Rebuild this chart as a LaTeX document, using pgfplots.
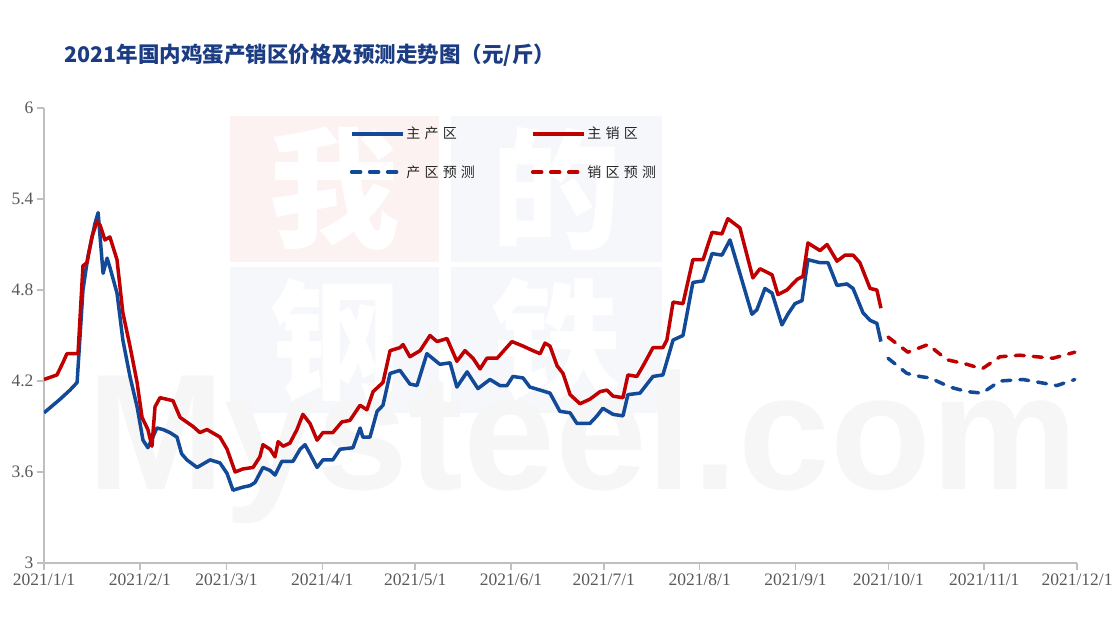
\documentclass[border=0pt]{standalone}
\usepackage{fontspec}
\setmainfont{Liberation Serif}
\newfontfamily\cjk{Noto Sans CJK SC}
\newfontfamily\cjkleg{Noto Sans CJK SC}[LetterSpace=30]
\newfontfamily\wmsans{Liberation Sans}
\usepackage{pgfplots}
\pgfplotsset{compat=1.18}
\definecolor{bl}{HTML}{124A97}
\definecolor{rd}{HTML}{C00000}
\definecolor{ttl}{HTML}{1B3C82}
\definecolor{tk}{HTML}{595959}
\definecolor{ax}{HTML}{BFBFBF}
\definecolor{wmpink}{HTML}{FDF2F2}
\definecolor{wmblue}{HTML}{F5F7FB}
\definecolor{wmgray}{HTML}{F6F6F6}

\begin{document}
\begin{tikzpicture}[x=1pt,y=1pt]
\path[use as bounding box] (0,0) rectangle (1114,626);
% watermark
\fill[wmpink] (230,364) rectangle (439,510);
\fill[wmblue] (451,364) rectangle (662,510);
\fill[wmblue] (230,213) rectangle (439,359);
\fill[wmblue] (451,213) rectangle (662,359);
\foreach \c/\px/\py in {我/334/437,的/556/437,钢/334/286,铁/556/286}
  \node[text=white, font=\cjk\bfseries\fontsize{130}{130}\selectfont] at (\px,\py) {\c};
\node[anchor=base west, text=wmgray, font=\wmsans\bfseries\fontsize{165}{165}\selectfont] at (84,136) {Mysteel.com};
% title
\node[anchor=west, text=ttl, font=\cjk\bfseries\fontsize{21.5}{24}\selectfont] at (61,571)
  {2021年国内鸡蛋产销区价格及预测走势图（元/斤）};
\begin{axis}[at={(44pt,63pt)}, anchor=south west, scale only axis,
  width=1033pt, height=455pt,
  xmin=0, xmax=334, ymin=3, ymax=6,
  axis x line*=bottom, axis y line*=left,
  axis line style={ax, line width=1.5pt, -},
  xtick={0,31,59,90,120,151,181,212,243,273,304,334},
  xticklabels={2021/1/1,2021/2/1,2021/3/1,2021/4/1,2021/5/1,2021/6/1,2021/7/1,2021/8/1,2021/9/1,2021/10/1,2021/11/1,2021/12/1},
  ytick={3,3.6,4.2,4.8,5.4,6}, yticklabels={3,3.6,4.2,4.8,5.4,6},
  tick align=outside, major tick length=7pt,
  tick style={ax, line width=1.5pt},
  tick label style={font=\fontsize{17.5}{19}\selectfont, text=tk},
  legend columns=2,
  legend style={at={(0.293,0.967)}, anchor=north west, draw=none, fill=none,
    font=\cjkleg\fontsize{14}{16}\selectfont, text=black!85, row sep=21pt},
  legend cell align=left,
  /tikz/every even column/.append style={column sep=54pt},
  legend image code/.code={\draw[#1] (0pt,0pt) -- (51pt,0pt);},
  every axis plot/.append style={line width=3.5pt, line join=round, no marks},
]
\addplot[bl] coordinates {
(0,3.99)(5.2,4.08)(8.4,4.14)(10.7,4.19)(12.6,4.80)(14.2,5.02)(16.5,5.24)(17.5,5.31)(19.1,4.91)(20.4,5.01)(21.3,4.95)(23.6,4.78)(25.5,4.47)(27.8,4.23)(30.1,4.03)(32.0,3.81)(33.6,3.76)(35.2,3.83)(36.5,3.89)(38.5,3.88)(40.7,3.86)(43.0,3.83)(44.5,3.72)(46.2,3.68)(49.5,3.63)(53.7,3.68)(56.9,3.66)(59.2,3.59)(61.1,3.48)(64.3,3.50)(66.6,3.51)(68.2,3.53)(70.8,3.63)(73.1,3.61)(74.7,3.58)(76.9,3.67)(80.5,3.67)(82.8,3.75)(84.4,3.78)(86.0,3.72)(88.3,3.63)(90.2,3.68)(93.4,3.68)(95.7,3.75)(99.9,3.76)(102.2,3.89)(103.1,3.83)(105.4,3.83)(107.7,4.00)(109.6,4.04)(111.9,4.25)(115.1,4.27)(118.3,4.18)(120.6,4.17)(123.8,4.38)(128.0,4.31)(131.3,4.32)(133.5,4.16)(136.8,4.26)(140.3,4.15)(144.2,4.21)(147.4,4.17)(149.7,4.17)(151.6,4.23)(154.9,4.22)(157.1,4.16)(160.4,4.14)(163.6,4.12)(166.8,4.00)(170.1,3.99)(172.3,3.92)(176.5,3.92)(178.8,3.97)(180.7,4.02)(184.0,3.98)(187.2,3.97)(188.8,4.11)(192.7,4.12)(196.9,4.23)(200.1,4.24)(203.4,4.47)(206.6,4.50)(209.8,4.85)(213.1,4.86)(216.0,5.04)(219.2,5.03)(221.8,5.13)(225.0,4.91)(228.9,4.64)(230.5,4.67)(233.1,4.81)(235.4,4.78)(238.6,4.57)(240.5,4.64)(242.8,4.71)(245.1,4.73)(247.0,5.00)(250.9,4.98)(253.5,4.98)(256.4,4.83)(259.6,4.84)(261.6,4.81)(264.8,4.65)(267.1,4.60)(269.3,4.58)(270.6,4.46)
};
\addlegendentry{主产区}
\addplot[rd] coordinates {
(0,4.21)(4.2,4.24)(6.1,4.32)(7.4,4.38)(11.0,4.38)(12.6,4.96)(13.9,4.98)(15.5,5.15)(17.1,5.25)(18.1,5.23)(19.7,5.13)(21.3,5.15)(23.6,5.00)(25.5,4.65)(27.8,4.43)(30.1,4.19)(31.7,3.96)(33.6,3.88)(34.9,3.77)(35.9,4.03)(37.5,4.09)(41.7,4.07)(44.0,3.96)(48.2,3.90)(50.4,3.86)(52.7,3.88)(56.9,3.83)(59.2,3.75)(61.8,3.60)(64.3,3.62)(67.6,3.63)(69.8,3.70)(70.8,3.78)(73.1,3.75)(74.7,3.70)(75.7,3.80)(77.3,3.77)(79.5,3.79)(81.8,3.88)(83.7,3.98)(86.0,3.92)(88.3,3.81)(90.2,3.86)(93.4,3.86)(96.3,3.93)(98.9,3.94)(102.2,4.04)(104.4,4.01)(106.4,4.13)(109.6,4.19)(111.9,4.40)(115.1,4.42)(116.1,4.44)(118.3,4.36)(121.6,4.40)(124.8,4.50)(127.1,4.46)(130.3,4.48)(133.5,4.33)(136.1,4.40)(138.7,4.35)(141.0,4.28)(143.2,4.35)(146.5,4.35)(151.3,4.46)(154.9,4.43)(158.1,4.40)(160.4,4.38)(162.0,4.45)(163.6,4.43)(165.9,4.30)(167.8,4.25)(170.1,4.11)(173.3,4.05)(176.5,4.08)(179.8,4.13)(182.0,4.14)(184.0,4.10)(187.2,4.09)(188.8,4.24)(191.7,4.23)(193.7,4.30)(196.9,4.42)(200.1,4.42)(201.4,4.47)(203.4,4.72)(206.6,4.71)(209.8,5.00)(213.1,5.00)(216.0,5.18)(219.2,5.17)(221.1,5.27)(225.0,5.21)(229.2,4.88)(231.5,4.94)(235.4,4.90)(237.3,4.77)(240.2,4.80)(243.5,4.87)(245.4,4.89)(247.0,5.11)(250.9,5.06)(253.2,5.10)(256.4,4.99)(259.0,5.03)(261.6,5.03)(263.8,4.98)(267.1,4.81)(269.3,4.80)(270.6,4.68)
};
\addlegendentry{主销区}
\addplot[bl, dash pattern=on 9pt off 9pt, line cap=round] coordinates {
(272.9,4.35)(279.0,4.25)(283.2,4.23)(286.5,4.22)(292.9,4.16)(298.4,4.13)(303.3,4.12)(309.1,4.20)(316.5,4.21)(327.5,4.17)(333.3,4.21)
};
\addlegendentry{产区预测}
\addplot[rd, dash pattern=on 9pt off 9pt, line cap=round] coordinates {
(272.9,4.49)(279.3,4.39)(285.8,4.44)(292.0,4.34)(298.4,4.31)(303.3,4.28)(309.1,4.36)(315.5,4.37)(326.2,4.35)(333.3,4.39)
};
\addlegendentry{销区预测}
\end{axis}
\end{tikzpicture}
\end{document}
